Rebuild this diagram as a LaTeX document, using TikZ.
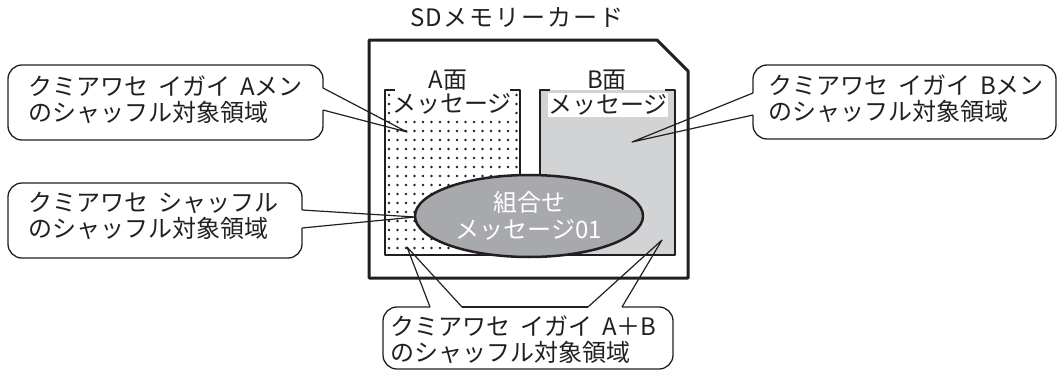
\documentclass[tikz,border=0pt]{standalone}
\usepackage{fontspec}
\newfontfamily\jp{Noto Sans CJK JP}
\usetikzlibrary{shapes.geometric}
\definecolor{ink}{HTML}{231F20}
\definecolor{lgray}{HTML}{D1D3D4}
\definecolor{mgray}{HTML}{A7A9AC}
\begin{document}
\begin{tikzpicture}[x=1pt,y=-1pt,line join=round,
  bub/.style={draw=ink,line width=1.3pt,rounded corners=14pt},
  ptr/.style={draw=ink,line width=1.2pt},
  btxt/.style={font=\jp\fontsize{24}{26}\selectfont,align=left,anchor=west,inner sep=0pt,text=ink},
  lbl/.style={font=\jp\fontsize{24}{26}\selectfont,inner sep=0pt,text=ink},
  msg/.style={font=\jp\fontsize{24}{26}\selectfont,inner sep=0pt,text=ink,fill=white,text height=20pt,text depth=4pt},
  region/.style={draw=ink,line width=2.5pt}]
\useasboundingbox (0,0) rectangle (1060,372);

% title
\node[lbl] (title) at (517,18) {S\kern1ptD\kern2ptメ\kern2ptモ\kern2ptリ\kern2ptー\kern2ptカ\kern2ptー\kern2ptド};

% card
\draw[ink,line width=3pt] (369,40) -- (657,40) -- (688,71) -- (688,278) -- (369,278) -- cycle;

% B region fill
\fill[lgray] (540,90) rectangle (675,255);

% A region dots
\foreach \i in {0,...,15}{
  \foreach \j in {0,...,17}{
    \fill[ink] (389+8.5*\i,95+9*\j) circle (1.4pt);
  }
}

% labels
\node[lbl] (aface) at (448,80) {A面};
\node[lbl] (bface) at (607,80) {B面};
\node[msg] (amsg) at (452,104) {メッセージ};
\node[msg] (bmsg) at (608,105) {メッセージ};

% region borders
\draw[region] (395,90) -- (385,90) -- (385,255) -- (520,255) -- (520,90) -- (510,90);
\draw[region] (550,90) -- (540,90) -- (540,255) -- (675,255) -- (675,90) -- (665,90);

% combination ellipse
\node[ellipse,draw=ink,line width=2.5pt,fill=mgray,minimum width=228pt,minimum height=82pt,inner sep=0pt,
      font=\jp\fontsize{24}{27}\selectfont,text=white,align=center] (combo) at (529,216) {組合せ\\メッセージ01};

% tips
\coordinate (tipA) at (407,132);
\coordinate (tipB) at (632,142);
\coordinate (tipC) at (415,217);
\coordinate (tipL) at (407,247);
\coordinate (tipR) at (662,240);

% bubble 1
\coordinate (b1a) at (323,88);
\coordinate (b1b) at (323,110);
\draw[bub] (b1b) -- (323,140) -- (8,140) -- (8,65) -- (323,65) -- (b1a);
\draw[ptr] (b1a) -- (tipA) -- (b1b);
\node[btxt] (t1) at (28,100) {クミアワセ\hspace{10pt}イガイ\hspace{10pt}Aメン\\のシャッフル対象領域};

% bubble 2
\coordinate (b2a) at (302,210);
\coordinate (b2b) at (302,228);
\draw[bub] (b2b) -- (302,258) -- (8,258) -- (8,183) -- (302,183) -- (b2a);
\draw[ptr] (b2a) -- (tipC) -- (b2b);
\node[btxt] (t2) at (28,216) {クミアワセ\hspace{10pt}シャッフル\\のシャッフル対象領域};

% bubble 3
\coordinate (b3a) at (753,93);
\coordinate (b3b) at (753,115);
\draw[bub] (b3a) -- (753,65) -- (1056,65) -- (1056,139) -- (753,139) -- (b3b);
\draw[ptr] (b3a) -- (tipB) -- (b3b);
\node[btxt] (t3) at (768,99) {クミアワセ\hspace{10pt}イガイ\hspace{10pt}Bメン\\のシャッフル対象領域};

% bubble 4
\coordinate (b4a) at (430,307);
\coordinate (b4b) at (462,307);
\coordinate (b4c) at (588,307);
\coordinate (b4d) at (622,307);
\draw[bub] (b4a) -- (383,307) -- (383,369) -- (673,369) -- (673,307) -- (b4d);
\draw[bub] (b4b) -- (b4c);
\draw[ptr] (b4a) -- (tipL) -- (b4b);
\draw[ptr] (b4c) -- (tipR) -- (b4d);
\node[btxt] (t4) at (390,340) {クミアワセ\hspace{10pt}イガイ\hspace{10pt}A＋B\\のシャッフル対象領域};
\end{tikzpicture}
\end{document}
